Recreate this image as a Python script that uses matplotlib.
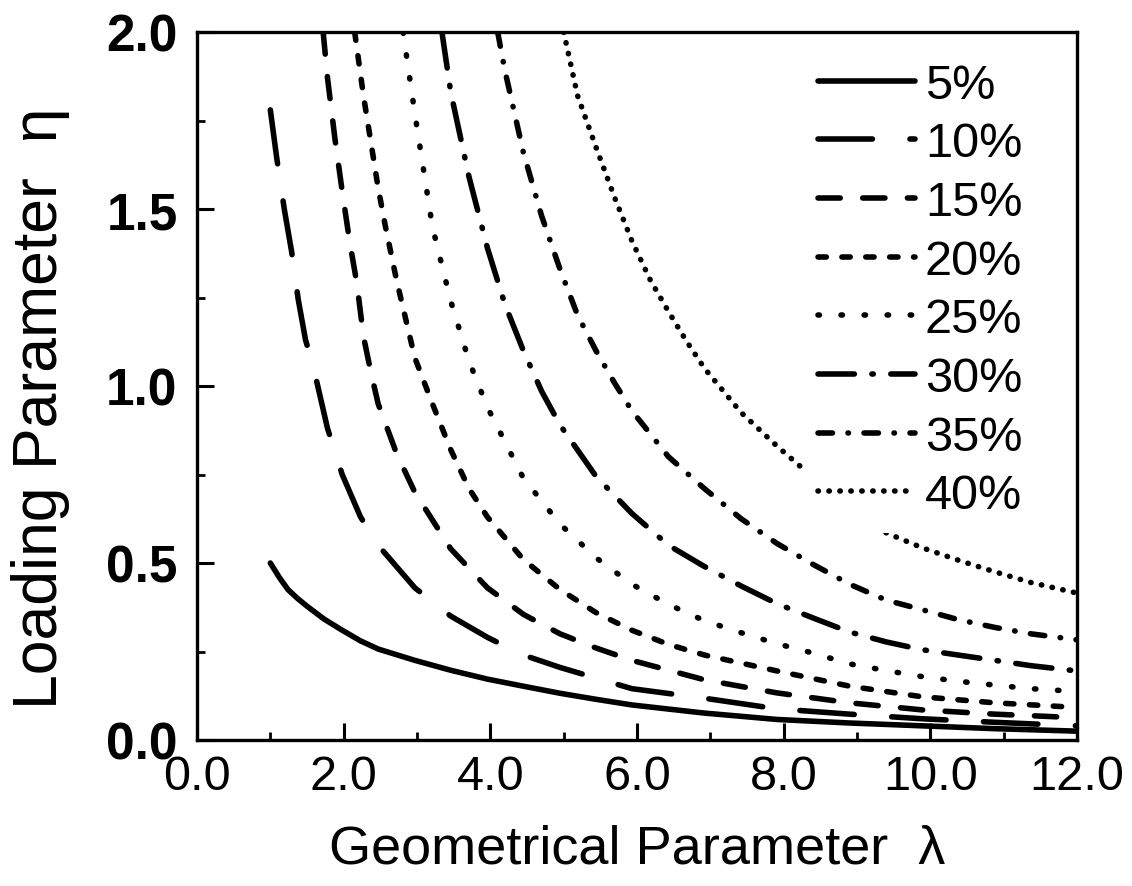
import matplotlib
matplotlib.use("Agg")
import matplotlib.pyplot as plt
from matplotlib.ticker import MultipleLocator, FormatStrFormatter

# ---- data ----
labels = ["5%", "10%", "15%", "20%", "25%", "30%", "35%", "40%"]

x5 = [1.0, 1.12, 1.24, 1.37, 1.5, 1.73, 1.98, 2.23, 2.47, 2.97, 3.46, 3.96, 4.45, 4.95, 5.44, 5.93, 6.92, 7.91, 8.9, 9.89, 10.88, 12.0]
y5 = [0.50, 0.46, 0.425, 0.40, 0.378, 0.342, 0.31, 0.28, 0.257, 0.225, 0.197, 0.172, 0.152, 0.132, 0.115, 0.099, 0.076, 0.058, 0.048, 0.040, 0.032, 0.025]

x10 = [1.0, 1.09, 1.19, 1.29, 1.38, 1.48, 1.58, 1.78, 1.98, 2.23, 2.47, 2.97, 3.46, 3.96, 4.45, 4.95, 5.44, 5.93, 6.92, 7.91, 8.9, 9.89, 10.88, 12.0]
y10 = [1.78, 1.64, 1.50, 1.38, 1.245, 1.13, 1.06, 0.88, 0.75, 0.63, 0.55, 0.43, 0.35, 0.29, 0.24, 0.205, 0.175, 0.145, 0.118, 0.088, 0.073, 0.060, 0.050, 0.040]

x15 = [1.72, 1.78, 1.88, 1.98, 2.08, 2.18, 2.27, 2.37, 2.47, 2.72, 2.97, 3.46, 3.96, 4.45, 4.95, 5.44, 5.93, 6.92, 7.91, 8.9, 9.89, 10.88, 12.0]
y15 = [2.0, 1.87, 1.70, 1.55, 1.41, 1.29, 1.14, 1.04, 0.95, 0.81, 0.70, 0.54, 0.43, 0.355, 0.30, 0.26, 0.225, 0.17, 0.133, 0.105, 0.085, 0.073, 0.063]

x20 = [2.15, 2.27, 2.37, 2.47, 2.57, 2.72, 2.97, 3.21, 3.46, 3.71, 3.96, 4.45, 4.95, 5.44, 5.93, 6.43, 6.92, 7.91, 8.9, 9.89, 10.88, 12.0]
y20 = [2.0, 1.82, 1.69, 1.56, 1.45, 1.30, 1.08, 0.95, 0.82, 0.71, 0.63, 0.51, 0.425, 0.36, 0.31, 0.27, 0.24, 0.195, 0.152, 0.122, 0.105, 0.092]

x25 = [2.81, 2.97, 3.21, 3.46, 3.71, 3.96, 4.45, 4.95, 5.44, 5.93, 6.43, 6.92, 7.42, 7.91, 8.41, 8.9, 9.4, 9.89, 10.38, 10.88, 11.37, 12.0]
y25 = [2.0, 1.77, 1.45, 1.24, 1.07, 0.94, 0.74, 0.61, 0.515, 0.44, 0.383, 0.337, 0.303, 0.272, 0.245, 0.215, 0.196, 0.179, 0.166, 0.155, 0.145, 0.137]

x30 = [3.34, 3.46, 3.71, 3.96, 4.2, 4.45, 4.7, 4.95, 5.44, 5.93, 6.43, 6.92, 7.42, 7.91, 8.41, 8.9, 9.4, 9.89, 10.38, 10.88, 11.37, 12.0]
y30 = [2.0, 1.83, 1.59, 1.39, 1.23, 1.10, 0.985, 0.89, 0.745, 0.64, 0.55, 0.49, 0.435, 0.385, 0.344, 0.305, 0.277, 0.255, 0.24, 0.225, 0.21, 0.195]

x35 = [4.1, 4.2, 4.45, 4.7, 4.95, 5.19, 5.44, 5.69, 5.93, 6.43, 6.92, 7.42, 7.91, 8.41, 8.9, 9.4, 9.89, 10.38, 10.88, 11.37, 12.0]
y35 = [2.0, 1.89, 1.66, 1.48, 1.33, 1.20, 1.10, 1.01, 0.93, 0.80, 0.71, 0.625, 0.555, 0.495, 0.44, 0.395, 0.368, 0.34, 0.318, 0.30, 0.283]

x40 = [5.0, 5.19, 5.44, 5.69, 5.93, 6.18, 6.43, 6.68, 6.92, 7.42, 7.91, 8.41, 8.9, 9.4, 9.89, 10.38, 10.88, 11.37, 12.0]
y40 = [2.0, 1.82, 1.675, 1.535, 1.41, 1.30, 1.21, 1.125, 1.05, 0.925, 0.83, 0.74, 0.66, 0.585, 0.543, 0.508, 0.475, 0.445, 0.415]

xs = [x5, x10, x15, x20, x25, x30, x35, x40]
ys = [y5, y10, y15, y20, y25, y30, y35, y40]

# ---- styles (dash lengths in units of line width, round caps) ----
dash_styles = [
    None,
    (9.8, 6.75),
    (4.0, 4.05),
    (1.5, 2.8),
    (0.25, 3.9),
    (6.55, 3.15, 0.25, 3.15),
    (2.6, 2.8, 0.08, 2.8),
    (0.07, 1.9),
]

plt.rcParams['font.family'] = ['Liberation Sans', 'DejaVu Sans']

fig = plt.figure(figsize=(11.32, 8.87), dpi=100)
ax = fig.add_axes([197/1132, 1-741/887, 880/1132, 708/887])

LW = 4.0
for x, y, lab, d in zip(xs, ys, labels, dash_styles):
    if d is None:
        ax.plot(x, y, color='black', lw=LW, label=lab, solid_capstyle='round')
    else:
        ax.plot(x, y, color='black', lw=LW, label=lab, dashes=d, dash_capstyle='round')

ax.set_xlim(0, 12)
ax.set_ylim(0, 2.0)
ax.xaxis.set_major_locator(MultipleLocator(2.0))
ax.xaxis.set_minor_locator(MultipleLocator(1.0))
ax.yaxis.set_major_locator(MultipleLocator(0.5))
ax.yaxis.set_minor_locator(MultipleLocator(0.25))
ax.xaxis.set_major_formatter(FormatStrFormatter('%.1f'))
ax.yaxis.set_major_formatter(FormatStrFormatter('%.1f'))

for s in ax.spines.values():
    s.set_linewidth(2.4)

ax.tick_params(which='major', direction='in', length=12, width=2.2)
ax.tick_params(which='minor', direction='in', length=6, width=2.0)
ax.tick_params(axis='x', which='major', pad=10)
ax.tick_params(axis='y', which='major', pad=14)

for t in ax.get_xticklabels():
    t.set_fontsize(35)
for t in ax.get_yticklabels():
    t.set_fontweight('bold')
    t.set_fontsize(37)

ax.set_xlabel('Geometrical Parameter  λ', fontsize=39, labelpad=18)
ax.set_ylabel('Loading Parameter  η', fontsize=45)
ax.yaxis.set_label_coords(-0.144, 0.47)

leg = ax.legend(loc='upper left', bbox_to_anchor=(0.689, 0.977), borderaxespad=0,
                fontsize=35, handlelength=2.0, handletextpad=0.2, labelspacing=0.28,
                borderpad=0.3, frameon=True, fancybox=False, framealpha=1.0)
leg.get_frame().set_edgecolor('none')
leg.get_frame().set_facecolor('white')

fig.savefig('out.png', dpi=100)
